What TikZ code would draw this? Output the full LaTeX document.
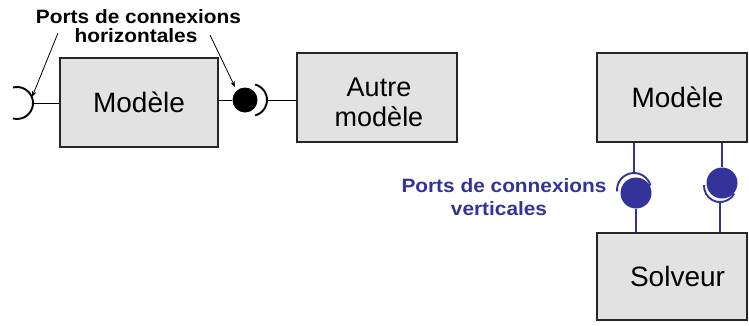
\documentclass[tikz,border=0pt]{standalone}
\usepackage{fontspec}
\setmainfont{Liberation Sans}
\newfontfamily\labfont[FakeStretch=1.08]{Liberation Sans}
\usetikzlibrary{arrows.meta}
\definecolor{portblue}{RGB}{51,51,153}
\definecolor{boxgray}{RGB}{226,226,226}
\begin{document}
\begin{tikzpicture}[x=1pt,y=-1pt,
  modelbox/.style={draw=black!85, line width=1.4pt, fill=boxgray, inner sep=0pt,
    font=\fontsize{28}{30}\selectfont},
  boxtext/.style={font=\fontsize{28}{30}\selectfont, inner sep=0pt},
  lab/.style={font=\labfont\bfseries\fontsize{19.3}{22}\selectfont, inner sep=0pt},
  wire/.style={line width=1pt, draw=black},
  arcline/.style={line width=1.9pt, draw=black},
  bwire/.style={line width=1.1pt, draw=portblue},
  barc/.style={line width=1.9pt, draw=portblue},
  ptr/.style={line width=0.8pt, -{Stealth[length=6pt,width=4.5pt]}},
  bport/.style={circle, fill=portblue, inner sep=0pt, minimum size=31pt},
  kport/.style={circle, fill=black, inner sep=0pt, minimum size=25pt}
]
\useasboundingbox (0,0) rectangle (749,325);

% boxes
\node[modelbox, minimum width=158pt, minimum height=89pt] (m1) at (139,102.5) {Modèle};
\node[modelbox, minimum width=160pt, minimum height=89pt,
      label={[boxtext, align=center, font=\fontsize{27}{30}\selectfont, xshift=2pt, yshift=-4.5pt]center:Autre\\modèle}] (autre) at (377,97.5) {};
\node[modelbox, minimum width=150pt, minimum height=89pt,
      label={[boxtext, xshift=5.5pt]center:Modèle}] (m2) at (672,97.5) {};
\node[modelbox, minimum width=150pt, minimum height=87pt,
      label={[boxtext, xshift=5.5pt]center:Solveur}] (solv) at (672,276.5) {};

% horizontal ports
\coordinate (cL) at (17,103);
\draw[arcline] ([shift={(-105:16)}]cL) arc[start angle=-105, end angle=105, radius=16];
\coordinate (pL) at (33,103);
\draw[wire] (pL) -- (pL -| m1.west);

\node[kport] (blk) at (245,100) {};
\coordinate (cB) at (251,100);
\draw[arcline] ([shift={(-75:16)}]cB) arc[start angle=-75, end angle=75, radius=16];
\coordinate (pR) at (267,100);
\draw[wire] (m1.east |- blk) -- (blk.west);
\draw[wire] (pR) -- (pR -| autre.west);

% horizontal label and pointers
\node[lab, anchor=base] (t1a) at (138.5,23) {Ports de connexions};
\node[lab, anchor=base] (t1b) at (136,42) {horizontales};
\coordinate (a1s) at (58,33);
\coordinate (a1e) at (32,97);
\coordinate (a2s) at (210,35);
\coordinate (a2e) at (235,87);
\draw[ptr] (a1s) -- (a1e);
\draw[ptr] (a2s) -- (a2e);

% vertical ports
\node[bport] (vc1) at (636,193) {};
\coordinate (cv1) at (634,190);
\draw[barc] ([shift={(-185:17)}]cv1) arc[start angle=-185, end angle=-15, radius=17];
\coordinate (v1t) at (634,173);
\draw[bwire] (v1t |- m2.south) -- (v1t);
\draw[bwire] (vc1.south) -- (vc1.south |- solv.north);

\node[bport] (vc2) at (722,183) {};
\coordinate (cv2) at (720,186);
\draw[barc] ([shift={(28:16)}]cv2) arc[start angle=28, end angle=183, radius=16];
\coordinate (v2b) at (720,202);
\draw[bwire] (vc2.north |- m2.south) -- (vc2.north);
\draw[bwire] (v2b) -- (v2b |- solv.north);

% vertical label
\node[lab, text=portblue, anchor=base] (t2a) at (504,192) {Ports de connexions};
\node[lab, text=portblue, anchor=base] (t2b) at (499,215) {verticales};
\end{tikzpicture}
\end{document}
